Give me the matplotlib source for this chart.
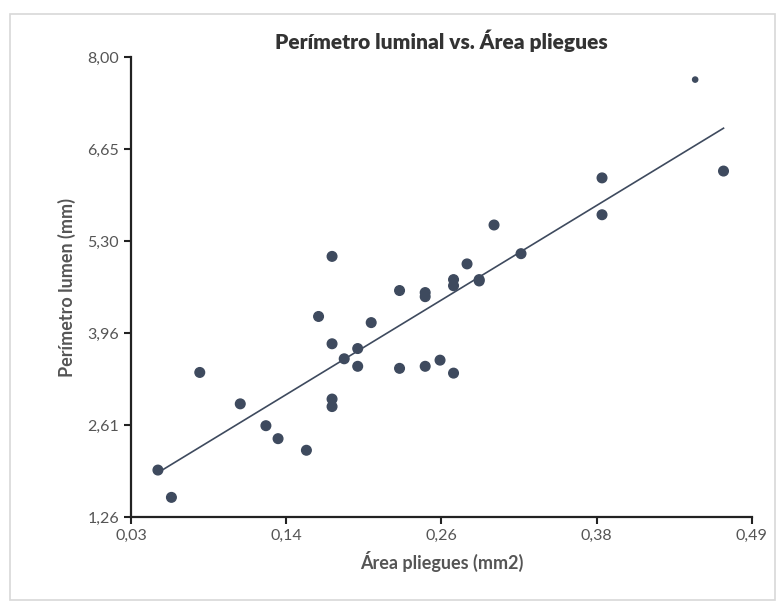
import matplotlib.pyplot as plt
import numpy as np
from matplotlib.patches import Rectangle

# Data
area = [0.050, 0.060, 0.081, 0.111, 0.130, 0.139, 0.160, 0.169, 0.179, 0.179,
        0.179, 0.179, 0.188, 0.198, 0.198, 0.208, 0.229, 0.229, 0.248, 0.248,
        0.248, 0.259, 0.269, 0.269, 0.269, 0.279, 0.288, 0.288, 0.299, 0.319,
        0.379, 0.379, 0.448, 0.469]
perimetro = [1.95, 1.55, 3.38, 2.92, 2.60, 2.41, 2.24, 4.20, 5.08, 3.80,
             2.99, 2.88, 3.58, 3.73, 3.47, 4.11, 4.58, 3.44, 4.55, 4.49,
             3.47, 3.56, 4.74, 4.65, 3.37, 4.97, 4.74, 4.72, 5.54, 5.12,
             6.23, 5.69, 7.67, 6.33]

xticks = [0.03, 0.145, 0.26, 0.375, 0.49]
xlabels = ["0,03", "0,14", "0,26", "0,38", "0,49"]
yticks = [1.26, 2.608, 3.956, 5.304, 6.652, 8.0]
ylabels = ["1,26", "2,61", "3,96", "5,30", "6,65", "8,00"]

plt.rcParams['font.family'] = ['Lato', 'DejaVu Sans']

fig = plt.figure(figsize=(7.84, 6.07), dpi=100)
ax = fig.add_axes([0.167, 0.148, 0.792, 0.758])

# light frame around the chart area
fig.patches.append(Rectangle((0.013, 0.012), 0.975, 0.965, transform=fig.transFigure,
                             fill=False, edgecolor='#d8d8d8', linewidth=1.2))

pt_color = '#3e4a5e'
# the top-right point shows up only as a small speck in the original
sizes = np.full(len(area), 48.0)
sizes[int(np.argmax(perimetro))] = 14
ax.scatter(area, perimetro, s=sizes, color=pt_color, zorder=3)

# linear trend line
a = np.array(area)
coef = np.polyfit(a, np.array(perimetro), 1)
xs = np.array([a.min(), a.max()])
ax.plot(xs, np.polyval(coef, xs), color=pt_color, linewidth=1.2, zorder=2)

ax.set_xlim(0.03, 0.49)
ax.set_ylim(1.26, 8.0)
ax.set_xticks(xticks)
ax.set_xticklabels(xlabels)
ax.set_yticks(yticks)
ax.set_yticklabels(ylabels)

for side in ['top', 'right']:
    ax.spines[side].set_visible(False)
for side in ['left', 'bottom']:
    ax.spines[side].set_linewidth(1.6)
    ax.spines[side].set_color('#222222')
ax.tick_params(direction='out', length=5, width=1.5, color='#222222',
               labelsize=11.5, labelcolor='#555555')

ax.set_title("Perímetro luminal vs. Área pliegues", fontsize=15, fontweight='heavy',
             color='#333333', pad=6)
ax.set_xlabel("Área pliegues (mm2)", fontsize=13, fontweight='bold', color='#555555',
              labelpad=6)
ax.set_ylabel("Perímetro lumen (mm)", fontsize=13, fontweight='bold', color='#555555',
              labelpad=8)

fig.savefig("out.png", dpi=100)
